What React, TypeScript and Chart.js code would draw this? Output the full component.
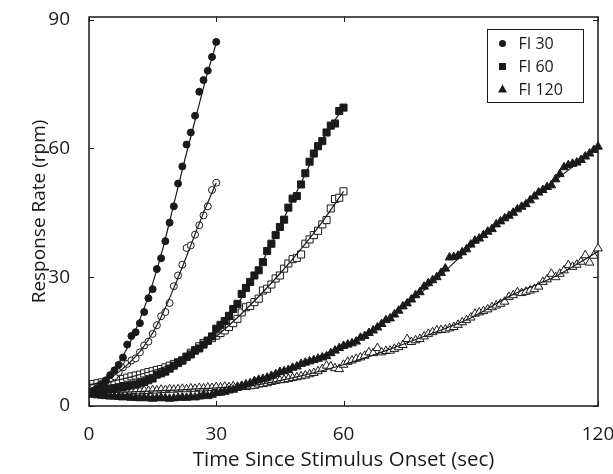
import React, { useEffect, useRef } from "react";
import { Chart, registerables } from "chart.js";

Chart.register(...registerables);

// ---------- DATA ----------
const xTickValues = [0, 30, 60, 120];
const yTickValues = [0, 30, 60, 90];
const legendLabels = ["FI 30", "FI 60", "FI 120"];

const time30 = [1, 2, 3, 4, 5, 6, 7, 8, 9, 10, 11, 12, 13, 14, 15, 16, 17, 18, 19, 20, 21, 22, 23, 24, 25, 26, 27, 28, 29, 30];
const time60 = [1, 2, 3, 4, 5, 6, 7, 8, 9, 10, 11, 12, 13, 14, 15, 16, 17, 18, 19, 20, 21, 22, 23, 24, 25, 26, 27, 28, 29, 30,
  31, 32, 33, 34, 35, 36, 37, 38, 39, 40, 41, 42, 43, 44, 45, 46, 47, 48, 49, 50, 51, 52, 53, 54, 55, 56, 57, 58, 59, 60];
const time120 = [1, 2, 3, 4, 5, 6, 7, 8, 9, 10, 11, 12, 13, 14, 15, 16, 17, 18, 19, 20, 21, 22, 23, 24, 25, 26, 27, 28, 29, 30,
  31, 32, 33, 34, 35, 36, 37, 38, 39, 40, 41, 42, 43, 44, 45, 46, 47, 48, 49, 50, 51, 52, 53, 54, 55, 56, 57, 58, 59, 60,
  61, 62, 63, 64, 65, 66, 67, 68, 69, 70, 71, 72, 73, 74, 75, 76, 77, 78, 79, 80, 81, 82, 83, 84, 85, 86, 87, 88, 89, 90,
  91, 92, 93, 94, 95, 96, 97, 98, 99, 100, 101, 102, 103, 104, 105, 106, 107, 108, 109, 110, 111, 112, 113, 114, 115, 116, 117, 118, 119, 120];

const fi30Filled = [3.5, 4.2, 5.0, 6.0, 7.2, 8.3, 9.6, 11.3, 14.3, 16.3, 17.2, 19.3, 21.9, 25.1, 27.2, 31.9, 34.4, 38.4, 42.7, 46.5,
  51.8, 55.8, 60.9, 63.7, 67.6, 73.2, 75.9, 78.1, 81.3, 84.8];
const fi30Open = [4.2, 4.6, 5.2, 5.8, 6.3, 6.9, 7.9, 9.0, 9.8, 10.6, 11.1, 12.5, 14.1, 15.0, 16.8, 18.8, 20.9, 21.9, 24.0, 27.9,
  30.4, 32.9, 36.8, 37.4, 39.9, 42.1, 44.4, 46.5, 50.3, 52.0];

const fi60Filled = [3.5, 3.6, 3.7, 3.9, 4.0, 4.1, 4.3, 4.4, 4.6, 4.8,
  5.0, 5.3, 5.6, 6.0, 6.4, 7.3, 7.6, 8.0, 8.7, 9.4,
  10.0, 10.6, 11.4, 12.0, 12.9, 13.4, 14.3, 15.2, 16.2, 18.0,
  18.9, 19.8, 21.0, 22.6, 23.8, 26.1, 27.5, 28.9, 30.4, 31.6,
  33.5, 36.1, 37.8, 39.8, 41.7, 43.4, 46.2, 48.3, 48.9, 51.6,
  54.2, 56.9, 58.8, 60.5, 61.7, 63.7, 65.3, 65.8, 68.7, 69.5];
const fi60Open = [5.1, 5.3, 5.5, 5.6, 5.7, 5.8, 6.0, 6.3, 6.6, 6.9,
  7.1, 7.3, 7.6, 7.9, 8.1, 8.4, 8.6, 9.0, 9.4, 9.8,
  10.2, 10.6, 11.5, 12.4, 13.0, 13.9, 14.7, 15.2, 15.8, 16.4,
  17.0, 17.6, 18.4, 19.3, 20.3, 21.8, 23.0, 23.3, 24.2, 25.0,
  26.9, 27.3, 28.3, 29.7, 30.4, 32.0, 33.2, 34.2, 34.5, 35.3,
  37.8, 38.8, 39.8, 40.8, 42.3, 43.3, 46.0, 48.2, 48.5, 50.0];

const fi120Filled = [2.6, 2.5, 2.4, 2.3, 2.2, 2.2, 2.1, 2.0, 2.1, 1.9,
  1.9, 1.8, 1.9, 1.8, 1.7, 1.8, 1.9, 1.8, 1.7, 1.8,
  1.9, 2.0, 1.9, 2.1, 2.0, 2.2, 2.6, 2.3, 2.6, 3.0,
  3.1, 3.3, 3.6, 3.8, 4.2, 4.6, 5.0, 5.3, 5.8, 6.1,
  6.3, 6.6, 7.0, 7.4, 7.9, 8.1, 8.4, 8.9, 9.2, 9.8,
  10.1, 10.4, 10.7, 11.0, 11.3, 11.6, 12.3, 12.9, 13.5, 14.0,
  14.3, 14.6, 15.0, 15.9, 16.3, 17.0, 17.6, 18.3, 19.1, 20.0,
  20.4, 21.3, 22.2, 23.2, 23.9, 24.8, 25.8, 26.5, 27.8, 28.6,
  29.3, 30.0, 31.0, 32.0, 34.6, 34.7, 35.0, 35.8, 36.5, 37.6,
  38.5, 39.0, 39.8, 40.6, 41.2, 42.3, 43.0, 43.7, 44.3, 45.0,
  45.8, 46.4, 47.0, 47.9, 48.8, 49.7, 50.3, 51.0, 51.4, 52.8,
  54.0, 55.6, 56.1, 56.4, 56.7, 57.3, 58.1, 58.8, 59.6, 60.4];
const fi120Open = [3.0, 3.1, 3.0, 3.2, 3.1, 3.3, 3.2, 3.4, 3.3, 3.4,
  3.5, 3.4, 3.6, 3.5, 3.7, 3.6, 3.8, 3.7, 3.9, 3.8,
  3.9, 4.0, 3.9, 4.1, 4.0, 4.2, 4.1, 4.3, 4.2, 4.4,
  4.3, 4.5, 4.4, 4.6, 4.5, 4.7, 4.4, 4.6, 4.7, 5.0,
  5.1, 5.3, 5.6, 5.8, 6.0, 6.1, 6.3, 6.5, 6.7, 6.9,
  7.1, 7.4, 7.7, 8.1, 8.6, 9.4, 9.2, 8.8, 8.6, 9.6,
  10.3, 10.6, 11.0, 11.3, 11.7, 12.5, 12.3, 13.5, 12.5, 12.8,
  12.9, 13.3, 13.7, 14.2, 15.6, 14.9, 15.3, 15.6, 16.2, 16.8,
  17.2, 17.6, 17.7, 17.8, 18.1, 18.4, 18.9, 19.5, 20.0, 20.6,
  21.5, 21.8, 22.1, 22.5, 23.0, 23.4, 23.8, 24.3, 25.4, 25.8,
  26.5, 26.3, 26.6, 26.9, 27.2, 27.8, 28.9, 29.5, 30.8, 30.0,
  30.8, 31.6, 32.8, 32.4, 32.9, 33.6, 35.1, 33.4, 35.0, 36.7];

// fitted curves
const fitTime30 = [0, 2.5, 5, 7.5, 10, 12.5, 15, 17.5, 20, 22.5, 25, 27.5, 30];
const fit30Filled = [3.0, 4.5, 7.2, 10.8, 15.5, 21.5, 28.5, 37.0, 47.0, 57.0, 66.5, 76.0, 84.5];
const fit30Open = [4.0, 5.0, 6.5, 8.3, 10.5, 13.3, 17.0, 21.8, 27.5, 33.6, 40.0, 46.2, 52.0];
const fitTime60 = [0, 5, 10, 15, 20, 25, 30, 35, 40, 45, 50, 55, 60];
const fit60Filled = [3.2, 3.8, 4.7, 6.4, 9.2, 12.8, 17.0, 23.7, 32.0, 41.8, 52.0, 62.0, 69.5];
const fit60Open = [5.0, 5.7, 6.8, 8.2, 9.9, 12.6, 16.2, 20.6, 25.5, 30.8, 36.6, 42.9, 50.0];
const fitTime120 = [0, 10, 20, 30, 40, 50, 60, 70, 80, 90, 100, 110, 120];
const fit120Filled = [2.4, 2.0, 2.0, 2.8, 5.9, 9.8, 14.0, 20.0, 27.8, 37.0, 45.2, 52.6, 60.4];
const fit120Open = [3.0, 3.3, 3.7, 4.2, 5.0, 7.0, 9.6, 12.9, 16.6, 20.5, 26.0, 30.2, 36.0];

// ---------- helpers ----------
const FONT = "'Open Sans', Lato, sans-serif";
const INK = "#1a1a1a";

const pts = (xs: number[], ys: number[]) => xs.map((x, i) => ({ x, y: ys[i] }));

const markerSet = (label: string, xs: number[], ys: number[], style: string, filled: boolean, r: number) => ({
  label,
  data: pts(xs, ys),
  showLine: false,
  pointStyle: style,
  pointRadius: r,
  pointHoverRadius: r,
  pointBackgroundColor: filled ? INK : "#ffffff",
  pointBorderColor: INK,
  pointBorderWidth: 1,
  clip: false,
});

const lineSet = (xs: number[], ys: number[]) => ({
  label: "fit",
  data: pts(xs, ys),
  showLine: true,
  borderColor: INK,
  borderWidth: 1.2,
  pointRadius: 0,
  tension: 0.4,
  cubicInterpolationMode: "monotone",
  fill: false,
  clip: false,
});

const framePlugin = {
  id: "frame",
  beforeDatasetsDraw(chart: any) {
    const { ctx, chartArea, scales } = chart;
    const { left, right, top, bottom } = chartArea;
    ctx.save();
    ctx.strokeStyle = INK;
    ctx.lineWidth = 1.5;
    ctx.strokeRect(left, top, right - left, bottom - top);
    ctx.lineWidth = 1;
    const tl = 5;
    ctx.beginPath();
    xTickValues.forEach((v) => {
      const px = Math.round(scales.x.getPixelForValue(v)) + 0.5;
      ctx.moveTo(px, bottom);
      ctx.lineTo(px, bottom - tl);
      ctx.moveTo(px, top);
      ctx.lineTo(px, top + tl);
    });
    yTickValues.forEach((v) => {
      const py = Math.round(scales.y.getPixelForValue(v)) + 0.5;
      ctx.moveTo(left, py);
      ctx.lineTo(left + tl, py);
      ctx.moveTo(right, py);
      ctx.lineTo(right - tl, py);
    });
    ctx.stroke();
    ctx.restore();
  },
};

const legendPlugin = {
  id: "boxLegend",
  afterDraw(chart: any) {
    const { ctx, chartArea } = chart;
    const boxW = 96;
    const boxH = 73;
    const bx = Math.round(chartArea.right - 15 - boxW) + 0.5;
    const by = Math.round(chartArea.top + 12) + 0.5;
    ctx.save();
    ctx.fillStyle = "#ffffff";
    ctx.fillRect(bx, by, boxW, boxH);
    ctx.strokeStyle = INK;
    ctx.lineWidth = 1;
    ctx.strokeRect(bx, by, boxW, boxH);
    const styles = ["circle", "rect", "triangle"];
    legendLabels.forEach((label, i) => {
      const cy = by + 14 + i * 23;
      const cx = bx + 15;
      ctx.fillStyle = INK;
      ctx.beginPath();
      if (styles[i] === "circle") {
        ctx.arc(cx, cy, 3.5, 0, Math.PI * 2);
      } else if (styles[i] === "rect") {
        ctx.rect(cx - 3.5, cy - 3.5, 7, 7);
      } else {
        ctx.moveTo(cx, cy - 5);
        ctx.lineTo(cx + 4.5, cy + 3);
        ctx.lineTo(cx - 4.5, cy + 3);
        ctx.closePath();
      }
      ctx.fill();
      ctx.font = `16px ${FONT}`;
      ctx.textBaseline = "middle";
      ctx.textAlign = "left";
      ctx.fillText(label, bx + 31, cy + 1);
    });
    ctx.restore();
  },
};

export default function App() {
  const canvasRef = useRef<HTMLCanvasElement | null>(null);

  useEffect(() => {
    if (!canvasRef.current) return;
    const chart = new Chart(canvasRef.current, {
      type: "scatter",
      data: {
        datasets: [
          lineSet(fitTime30, fit30Filled),
          lineSet(fitTime30, fit30Open),
          lineSet(fitTime60, fit60Filled),
          lineSet(fitTime60, fit60Open),
          lineSet(fitTime120, fit120Filled),
          lineSet(fitTime120, fit120Open),
          markerSet("FI 30", time30, fi30Filled, "circle", true, 3.5),
          markerSet("FI 30 open", time30, fi30Open, "circle", false, 3.5),
          markerSet("FI 60", time60, fi60Filled, "rect", true, 5),
          markerSet("FI 60 open", time60, fi60Open, "rect", false, 5),
          markerSet("FI 120", time120, fi120Filled, "triangle", true, 5),
          markerSet("FI 120 open", time120, fi120Open, "triangle", false, 5),
        ] as any,
      },
      options: {
        responsive: false,
        animation: false,
        events: [],
        layout: { padding: { left: 0, right: 15, top: 17, bottom: 0 } },
        plugins: {
          legend: { display: false },
          tooltip: { enabled: false },
        },
        scales: {
          x: {
            type: "linear",
            min: 0,
            max: 120,
            grid: { display: false },
            border: { display: false },
            afterBuildTicks: (scale: any) => {
              scale.ticks = xTickValues.map((v) => ({ value: v }));
            },
            afterFit: (scale: any) => {
              scale.height = 68;
              scale.paddingLeft = 0;
              scale.paddingRight = 0;
            },
            ticks: {
              padding: 9,
              color: INK,
              font: { family: FONT, size: 19 },
              maxRotation: 0,
              autoSkip: false,
            },
            title: {
              display: true,
              text: "Time Since Stimulus Onset (sec)",
              color: INK,
              font: { family: FONT, size: 20.5 },
              padding: 2,
            },
          },
          y: {
            type: "linear",
            min: 0,
            max: 90.6,
            grid: { display: false },
            border: { display: false },
            afterBuildTicks: (scale: any) => {
              scale.ticks = yTickValues.map((v) => ({ value: v }));
            },
            afterFit: (scale: any) => {
              scale.width = 89;
              scale.paddingTop = 0;
              scale.paddingBottom = 0;
            },
            ticks: {
              padding: 11,
              color: INK,
              font: { family: FONT, size: 19 },
              autoSkip: false,
            },
            title: {
              display: true,
              text: "Response Rate (rpm)",
              color: INK,
              font: { family: FONT, size: 19 },
              padding: 28,
            },
          },
        },
      } as any,
      plugins: [framePlugin, legendPlugin],
    });
    return () => chart.destroy();
  }, []);

  return (
    <div style={{ position: "absolute", left: 0, top: 0, width: 613, height: 474, background: "#fff" }}>
      <canvas ref={canvasRef} width={613} height={474} style={{ display: "block", width: 613, height: 474 }} />
    </div>
  );
}
